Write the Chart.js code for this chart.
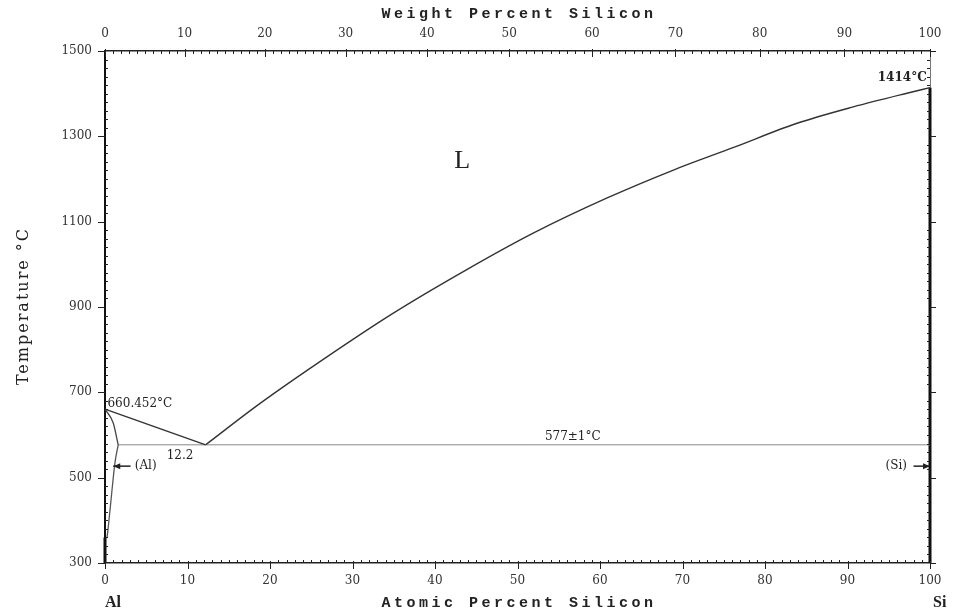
<!DOCTYPE html>
<html lang="en">
<head>
<meta charset="UTF-8">
<title>Al-Si Phase Diagram</title>
<script src="https://cdn.jsdelivr.net/npm/chart.js@4"></script>
<style>
  body { margin: 0; background: #fff; }
  #wrap { width: 953px; height: 613px; }
</style>
</head>
<body>
<div id="wrap"><canvas id="phaseChart" width="953" height="613"></canvas></div>
<script>
// atomic percent Si vs temperature (°C)
const liquidusAl = [[0, 660.452], [12.2, 577]];
const liquidusSi = [[12.2, 577], [18.8, 674], [26.9, 783], [34.9, 885], [43.8, 987], [51.9, 1073],
                    [60.8, 1155], [68.9, 1221], [76.2, 1274], [83.8, 1330], [90.7, 1369], [97.2, 1401], [100, 1414]];
const solidusAl = [[0, 660.452], [1.0, 628], [1.6, 577]];
const solvusAl = [[1.6, 577], [1.2, 534], [0.85, 471], [0.4, 385], [0.25, 360]];
const eutectic = [[1.6, 577], [100, 577]];
const pureSi = [[100, 1414], [100, 300]];
const pureAl = [[0, 360], [0, 300]];

// tick labels
const tempTicks = [300, 500, 700, 900, 1100, 1300, 1500];
const atomicTicks = [0, 10, 20, 30, 40, 50, 60, 70, 80, 90, 100];
const weightTicks = [0, 10, 20, 30, 40, 50, 60, 70, 80, 90, 100];

// weight % Si -> atomic % Si (for the top axis)
const M_SI = 28.0855, M_AL = 26.9815;
function wtToAt(w) {
    const nSi = w / M_SI, nAl = (100 - w) / M_AL;
    return 100 * nSi / (nSi + nAl);
}

const pts = arr => arr.map(p => ({ x: p[0], y: p[1] }));
const tickFont = { family: 'DejaVu Serif', size: 12 };

function line(data, color, width, smooth) {
    return {
        data: pts(data),
        showLine: true,
        borderColor: color,
        borderWidth: width,
        pointRadius: 0,
        fill: false,
        clip: 4,
        cubicInterpolationMode: smooth ? 'monotone' : 'default',
        tension: 0
    };
}

// ticks, axis titles and labels on the diagram
const decor = {
    id: 'decor',
    afterDraw(chart) {
        const ctx = chart.ctx;
        const xs = chart.scales.x, xt = chart.scales.xTop, yl = chart.scales.y;
        const { left, right, top, bottom } = chart.chartArea;
        ctx.save();
        ctx.strokeStyle = '#222';
        ctx.lineWidth = 1;
        const seg = (x1, y1, x2, y2) => { ctx.beginPath(); ctx.moveTo(x1, y1); ctx.lineTo(x2, y2); ctx.stroke(); };

        for (let v = 0; v <= 100; v++) {
            const px = Math.round(xs.getPixelForValue(v)) + 0.5;
            if (v % 10 === 0) seg(px, bottom - 2, px, bottom + 6);
            else seg(px, bottom, px, bottom - 3);
        }
        for (let w = 0; w <= 100; w++) {
            const px = Math.round(xt.getPixelForValue(wtToAt(w))) + 0.5;
            if (w % 10 === 0) seg(px, top - 2, px, top + 6);
            else seg(px, top, px, top + 3);
        }
        for (let t = 300; t <= 1500; t += 20) {
            const py = Math.round(yl.getPixelForValue(t)) + 0.5;
            if ((t - 300) % 200 === 0) {
                seg(left - 7, py, left, py);
                seg(right, py, right + 6, py);
            } else {
                seg(left, py, left + 3, py);
                seg(right, py, right - 3, py);
            }
        }

        // axis titles
        ctx.fillStyle = '#222';
        ctx.textAlign = 'center';
        ctx.textBaseline = 'middle';
        ctx.font = 'bold 15px "Liberation Mono"';
        ctx.letterSpacing = '3.5px';
        ctx.fillText('Weight Percent Silicon', 519, 14);
        ctx.fillText('Atomic Percent Silicon', 519, 603);
        ctx.save();
        ctx.translate(24, 306);
        ctx.rotate(-Math.PI / 2);
        ctx.font = '16px "DejaVu Serif"';
        ctx.letterSpacing = '2px';
        ctx.fillText('Temperature °C', 0, 0);
        ctx.restore();
        ctx.letterSpacing = '0px';

        // element labels
        ctx.font = 'bold 16px "Liberation Serif"';
        ctx.textAlign = 'left';
        ctx.fillText('Al', left, 603);
        ctx.fillText('Si', right + 3, 603);

        const X = v => xs.getPixelForValue(v), Y = v => yl.getPixelForValue(v);
        ctx.font = '12px "DejaVu Serif"';
        ctx.textAlign = 'left';
        ctx.fillText('660.452°C', X(0.3), Y(673));
        ctx.textAlign = 'center';
        ctx.fillText('12.2', X(9.1), Y(552));
        ctx.fillText('577±1°C', X(56.7), Y(595));
        ctx.textAlign = 'right';
        ctx.font = 'bold 12px "DejaVu Serif"';
        ctx.fillText('1414°C', X(99.6), Y(1437));
        ctx.font = '12px "DejaVu Serif"';
        ctx.textAlign = 'left';
        ctx.fillText('(Al)', X(3.6), Y(527));
        ctx.textAlign = 'right';
        ctx.fillText('(Si)', X(97.2), Y(527));
        ctx.font = '26px "Liberation Serif"';
        ctx.textAlign = 'center';
        ctx.fillText('L', X(43.3), Y(1242));

        // arrows
        const arrow = (x1, y1, x2, y2) => {
            ctx.lineWidth = 1.5;
            seg(x1, y1, x2, y2);
            const dir = Math.sign(x2 - x1);
            ctx.beginPath();
            ctx.moveTo(x2, y2);
            ctx.lineTo(x2 - dir * 7, y2 - 3);
            ctx.lineTo(x2 - dir * 7, y2 + 3);
            ctx.closePath();
            ctx.fill();
        };
        arrow(X(3.1), Y(527), X(1.0), Y(527));
        arrow(X(98.0), Y(527), X(100), Y(527));
        ctx.restore();
    }
};

new Chart(document.getElementById('phaseChart'), {
    type: 'scatter',
    data: {
        datasets: [
            line(liquidusAl, '#333', 1.4, false),
            line(liquidusSi, '#333', 1.4, true),
            line(solidusAl, '#444', 1.3, true),
            line(solvusAl, '#555', 1.3, true),
            line(eutectic, '#888', 1, false),
            line(pureSi, '#111', 3, false),
            line(pureAl, '#111', 3, false)
        ]
    },
    options: {
        responsive: false,
        animation: false,
        layout: { padding: 0 },
        plugins: {
            legend: { display: false },
            tooltip: { enabled: false }
        },
        scales: {
            x: {
                type: 'linear', position: 'bottom', min: 0, max: 100,
                afterBuildTicks: s => { s.ticks = atomicTicks.map(v => ({ value: v })); },
                ticks: { font: tickFont, color: '#333', padding: 6, autoSkip: false, maxRotation: 0,
                         callback: (v, i) => String(atomicTicks[i]) },
                grid: { drawOnChartArea: false, tickLength: 5, color: 'rgba(0,0,0,0)' },
                border: { display: true, color: '#222', width: 1.5 },
                afterFit: s => { s.height = 50; }
            },
            xTop: {
                type: 'linear', position: 'top', min: 0, max: 100,
                afterBuildTicks: s => { s.ticks = weightTicks.map(w => ({ value: wtToAt(w) })); },
                ticks: {
                    font: tickFont, color: '#333', padding: 6, autoSkip: false, maxRotation: 0,
                    callback: (v, i) => String(weightTicks[i])
                },
                grid: { drawOnChartArea: false, tickLength: 4, color: 'rgba(0,0,0,0)' },
                border: { display: true, color: '#222', width: 1.5 },
                afterFit: s => { s.height = 51; }
            },
            y: {
                type: 'linear', position: 'left', min: 300, max: 1500,
                afterBuildTicks: s => { s.ticks = tempTicks.map(v => ({ value: v })); },
                ticks: { font: tickFont, color: '#333', padding: 6, autoSkip: false,
                         callback: (v, i) => String(tempTicks[i]) },
                grid: { drawOnChartArea: false, tickLength: 7, color: 'rgba(0,0,0,0)' },
                border: { display: true, color: '#111', width: 2 },
                afterFit: s => { s.width = 105; }
            },
            yRight: {
                type: 'linear', position: 'right', min: 300, max: 1500,
                ticks: { display: false },
                grid: { drawOnChartArea: false, drawTicks: false },
                border: { display: true, color: '#777', width: 1 },
                afterFit: s => { s.width = 23; }
            }
        }
    },
    plugins: [decor]
});
</script>
</body>
</html>
